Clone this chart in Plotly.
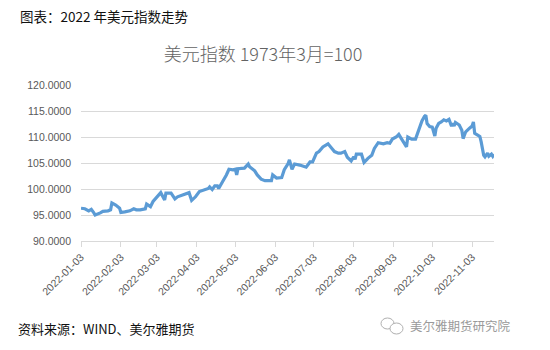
import plotly.graph_objects as go

# US dollar index, 2022 (daily closes, base March 1973 = 100)
dates = [
    "2022-01-03", "2022-01-06", "2022-01-09", "2022-01-11", "2022-01-13", "2022-01-14",
    "2022-01-18", "2022-01-20", "2022-01-24", "2022-01-26", "2022-01-27", "2022-01-30",
    "2022-02-02", "2022-02-03", "2022-02-06", "2022-02-10", "2022-02-13", "2022-02-15",
    "2022-02-18", "2022-02-22", "2022-02-23", "2022-02-26", "2022-02-28", "2022-03-04",
    "2022-03-06", "2022-03-09", "2022-03-10", "2022-03-14", "2022-03-17", "2022-03-19",
    "2022-03-23", "2022-03-26", "2022-03-28", "2022-03-30", "2022-04-02", "2022-04-05",
    "2022-04-09", "2022-04-12", "2022-04-13", "2022-04-15", "2022-04-17", "2022-04-19",
    "2022-04-20", "2022-04-22", "2022-04-23", "2022-04-26", "2022-04-28", "2022-05-01",
    "2022-05-03", "2022-05-04", "2022-05-05", "2022-05-10", "2022-05-13", "2022-05-14",
    "2022-05-18", "2022-05-20", "2022-05-23", "2022-05-26", "2022-05-31", "2022-06-01",
    "2022-06-04", "2022-06-08", "2022-06-10", "2022-06-13", "2022-06-14", "2022-06-16",
    "2022-06-18", "2022-06-22", "2022-06-27", "2022-06-30", "2022-07-02", "2022-07-05",
    "2022-07-07", "2022-07-10", "2022-07-14", "2022-07-17", "2022-07-19", "2022-07-22",
    "2022-07-24", "2022-07-27", "2022-07-29", "2022-08-01", "2022-08-03", "2022-08-04",
    "2022-08-05", "2022-08-09", "2022-08-11", "2022-08-14", "2022-08-17", "2022-08-19",
    "2022-08-22", "2022-08-26", "2022-08-29", "2022-08-31", "2022-09-02", "2022-09-05",
    "2022-09-07", "2022-09-09", "2022-09-11", "2022-09-13", "2022-09-14", "2022-09-17",
    "2022-09-20", "2022-09-22", "2022-09-24", "2022-09-25", "2022-09-27", "2022-09-28",
    "2022-09-29", "2022-10-01", "2022-10-03", "2022-10-05", "2022-10-06", "2022-10-08",
    "2022-10-10", "2022-10-12", "2022-10-14", "2022-10-16", "2022-10-18", "2022-10-19",
    "2022-10-20", "2022-10-21", "2022-10-24", "2022-10-26", "2022-10-27", "2022-10-29",
    "2022-11-01", "2022-11-03", "2022-11-04", "2022-11-05", "2022-11-07", "2022-11-09",
    "2022-11-10", "2022-11-12", "2022-11-13", "2022-11-15", "2022-11-16", "2022-11-18",
    "2022-11-19", "2022-11-20",
]
dxy = [
    96.3, 96.2, 95.8, 96.1, 95.4, 95.0,
    95.4, 95.7, 95.8, 96.0, 97.3, 96.9,
    96.3, 95.5, 95.6, 95.8, 96.2, 96.0,
    96.0, 96.2, 97.1, 96.6, 97.6, 98.8,
    99.3, 97.9, 99.2, 99.2, 98.1, 98.5,
    98.8, 99.0, 99.3, 97.8, 98.5, 99.5,
    99.9, 100.1, 100.4, 99.9, 100.6, 100.6,
    100.1, 101.1, 101.4, 102.7, 103.8, 103.7,
    103.8, 102.7, 103.9, 104.0, 104.8, 104.3,
    103.5, 102.7, 101.9, 101.6, 101.6, 102.7,
    102.1, 102.2, 103.7, 104.9, 105.6, 103.8,
    104.8, 104.6, 104.2, 105.2, 105.2, 106.9,
    107.2, 108.1, 108.7, 107.8, 107.2, 106.9,
    106.9, 107.2, 106.1, 105.4, 106.2, 105.7,
    106.7, 106.7, 105.1, 105.9, 106.5, 107.8,
    108.9, 108.7, 108.9, 108.8, 109.6, 110.0,
    110.5, 109.7, 108.9, 108.1, 110.0, 109.6,
    109.6, 111.0, 112.6, 113.1, 114.0, 114.2,
    112.6, 112.0, 111.9, 110.2, 111.7, 112.6,
    112.9, 113.3, 113.1, 113.4, 112.1, 112.6,
    112.1, 112.8, 112.3, 111.3, 109.7, 111.0,
    111.7, 112.1, 112.9, 110.7, 110.4, 110.1,
    109.1, 106.5, 106.2, 106.9, 106.3, 106.7,
    106.3, 106.7,
]

tick_dates = [
    "2022-01-03", "2022-02-03", "2022-03-03", "2022-04-03", "2022-05-03", "2022-06-03",
    "2022-07-03", "2022-08-03", "2022-09-03", "2022-10-03", "2022-11-03",
]
y_ticks = [90, 95, 100, 105, 110, 115, 120]

heading = "图表：2022 年美元指数走势"
chart_title = "美元指数 1973年3月=100"
source_note = "资料来源：WIND、美尔雅期货"
brand = "美尔雅期货研究院"

cjk = "Noto Sans CJK SC"
tick_font = dict(family="Liberation Sans, " + cjk, size=10.5, color="#595959")

fig = go.Figure()
fig.add_trace(go.Scatter(
    x=dates, y=dxy, mode="lines",
    line=dict(color="#5b9bd5", width=3.2, shape="linear"),
    hoverinfo="x+y", showlegend=False,
))

fig.update_layout(
    width=550, height=350,
    margin=dict(l=81, r=56, t=85, b=109),
    paper_bgcolor="white", plot_bgcolor="white",
    title=dict(
        text=chart_title, x=263 / 550, xanchor="center", xref="container",
        y=1 - 55 / 350, yanchor="middle", yref="container",
        font=dict(family=cjk, size=18, color="#636363", weight=300),
    ),
    xaxis=dict(
        type="date", range=[dates[0], dates[-1]],
        tickmode="array", tickvals=tick_dates, ticktext=tick_dates,
        tickangle=-45, tickfont=tick_font,
        showgrid=False, zeroline=False,
        showline=True, linecolor="#d9d9d9", linewidth=1,
        ticks="outside", ticklen=5, tickcolor="#d9d9d9", tickwidth=1,
    ),
    yaxis=dict(
        range=[90, 120], tickmode="array", tickvals=y_ticks,
        ticktext=[f"{v:.4f}" for v in y_ticks], tickfont=tick_font,
        showgrid=True, gridcolor="#d9d9d9", gridwidth=1,
        zeroline=False, showline=False, ticks="", ticklabelstandoff=9,
    ),
    annotations=[
        dict(text=heading, xref="paper", yref="paper",
             x=-63 / 413, y=1 + (85 - 16) / 156, xanchor="left", yanchor="middle",
             showarrow=False, font=dict(family=cjk, size=13.5, color="#111111")),
        dict(text=source_note, xref="paper", yref="paper",
             x=-65 / 413, y=-(328 - 241) / 156, xanchor="left", yanchor="middle",
             showarrow=False, font=dict(family=cjk, size=13, color="#111111")),
        dict(text=brand, xref="paper", yref="paper",
             x=(408 - 81) / 413, y=-(325 - 241) / 156, xanchor="left", yanchor="middle",
             showarrow=False, font=dict(family=cjk, size=12.5, color="#9a9a9a")),
    ],
    shapes=[
        # small chat-bubble logo beside the brand name
        dict(type="circle", xref="paper", yref="paper",
             x0=(381 - 81) / 413, x1=(394 - 81) / 413,
             y0=-(329 - 241) / 156, y1=-(318 - 241) / 156,
             line=dict(color="#b0b0b0", width=1)),
        dict(type="circle", xref="paper", yref="paper",
             x0=(390 - 81) / 413, x1=(403 - 81) / 413,
             y0=-(334 - 241) / 156, y1=-(323 - 241) / 156,
             line=dict(color="#b0b0b0", width=1), fillcolor="white"),
    ],
)

fig.write_html("out.html")
